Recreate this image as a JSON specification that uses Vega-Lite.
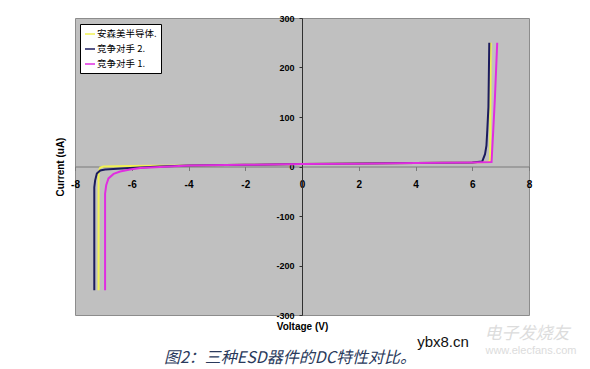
{
  "$schema": "https://vega.github.io/schema/vega-lite/v6.json",
  "width": 454,
  "height": 297,
  "autosize": {"type": "none"},
  "padding": {"left": 75, "top": 18, "right": 61, "bottom": 54},
  "background": "white",
  "view": {"fill": "#c0c0c0", "stroke": "#8c8c8c", "strokeWidth": 1},
  "title": {
    "text": "图2：三种ESD器件的DC特性对比。",
    "orient": "bottom",
    "anchor": "middle",
    "offset": -6,
    "dx": -12,
    "font": "Noto Sans CJK SC",
    "fontSize": 16,
    "fontStyle": "italic",
    "fontWeight": "normal",
    "color": "#2a3a5c"
  },
  "datasets": {
    "iv": [
      {"s": "安森美半导体.", "o": 1, "v": -7.17, "i": -250},
      {"s": "安森美半导体.", "o": 2, "v": -7.17, "i": -18},
      {"s": "安森美半导体.", "o": 3, "v": -7.15, "i": -8},
      {"s": "安森美半导体.", "o": 4, "v": -7.11, "i": -2},
      {"s": "安森美半导体.", "o": 5, "v": -7.0, "i": 0},
      {"s": "安森美半导体.", "o": 6, "v": -6.0, "i": 1},
      {"s": "安森美半导体.", "o": 7, "v": -4.0, "i": 2},
      {"s": "安森美半导体.", "o": 8, "v": -2.0, "i": 3.5},
      {"s": "安森美半导体.", "o": 9, "v": 0.0, "i": 5},
      {"s": "安森美半导体.", "o": 10, "v": 2.0, "i": 6},
      {"s": "安森美半导体.", "o": 11, "v": 4.0, "i": 7},
      {"s": "安森美半导体.", "o": 12, "v": 6.0, "i": 8},
      {"s": "安森美半导体.", "o": 13, "v": 6.55, "i": 9},
      {"s": "安森美半导体.", "o": 14, "v": 6.63, "i": 12},
      {"s": "安森美半导体.", "o": 15, "v": 6.64, "i": 120},
      {"s": "安森美半导体.", "o": 16, "v": 6.65, "i": 250},
      {"s": "竞争对手 2.", "o": 1, "v": -7.32, "i": -250},
      {"s": "竞争对手 2.", "o": 2, "v": -7.32, "i": -42},
      {"s": "竞争对手 2.", "o": 3, "v": -7.29, "i": -28},
      {"s": "竞争对手 2.", "o": 4, "v": -7.23, "i": -14},
      {"s": "竞争对手 2.", "o": 5, "v": -7.11, "i": -8},
      {"s": "竞争对手 2.", "o": 6, "v": -6.94, "i": -6},
      {"s": "竞争对手 2.", "o": 7, "v": -6.65, "i": -5},
      {"s": "竞争对手 2.", "o": 8, "v": -6.06, "i": -3},
      {"s": "竞争对手 2.", "o": 9, "v": -5.0, "i": 0},
      {"s": "竞争对手 2.", "o": 10, "v": -4.0, "i": 2},
      {"s": "竞争对手 2.", "o": 11, "v": -2.0, "i": 3.5},
      {"s": "竞争对手 2.", "o": 12, "v": 0.0, "i": 5},
      {"s": "竞争对手 2.", "o": 13, "v": 2.0, "i": 6},
      {"s": "竞争对手 2.", "o": 14, "v": 4.0, "i": 7},
      {"s": "竞争对手 2.", "o": 15, "v": 6.0, "i": 8},
      {"s": "竞争对手 2.", "o": 16, "v": 6.35, "i": 10},
      {"s": "竞争对手 2.", "o": 17, "v": 6.45, "i": 25},
      {"s": "竞争对手 2.", "o": 18, "v": 6.5, "i": 42},
      {"s": "竞争对手 2.", "o": 19, "v": 6.53, "i": 73},
      {"s": "竞争对手 2.", "o": 20, "v": 6.57, "i": 120},
      {"s": "竞争对手 2.", "o": 21, "v": 6.6, "i": 250},
      {"s": "竞争对手 1.", "o": 1, "v": -6.94, "i": -250},
      {"s": "竞争对手 1.", "o": 2, "v": -6.94, "i": -55},
      {"s": "竞争对手 1.", "o": 3, "v": -6.9, "i": -38},
      {"s": "竞争对手 1.", "o": 4, "v": -6.82, "i": -24},
      {"s": "竞争对手 1.", "o": 5, "v": -6.64, "i": -15},
      {"s": "竞争对手 1.", "o": 6, "v": -6.41, "i": -10},
      {"s": "竞争对手 1.", "o": 7, "v": -6.06, "i": -6},
      {"s": "竞争对手 1.", "o": 8, "v": -5.7, "i": -3},
      {"s": "竞争对手 1.", "o": 9, "v": -5.0, "i": -1},
      {"s": "竞争对手 1.", "o": 10, "v": -4.0, "i": 2},
      {"s": "竞争对手 1.", "o": 11, "v": -2.0, "i": 3.5},
      {"s": "竞争对手 1.", "o": 12, "v": 0.0, "i": 5},
      {"s": "竞争对手 1.", "o": 13, "v": 2.0, "i": 5.5},
      {"s": "竞争对手 1.", "o": 14, "v": 4.0, "i": 7},
      {"s": "竞争对手 1.", "o": 15, "v": 6.0, "i": 8},
      {"s": "竞争对手 1.", "o": 16, "v": 6.68, "i": 9},
      {"s": "竞争对手 1.", "o": 17, "v": 6.74, "i": 73},
      {"s": "竞争对手 1.", "o": 18, "v": 6.8, "i": 140},
      {"s": "竞争对手 1.", "o": 19, "v": 6.88, "i": 250}
    ],
    "wm": [
      {"t": "ybx8.cn", "v": 4.97, "i": -354, "k": "a"},
      {"t": "电子发烧友", "v": 7.93, "i": -338, "k": "b"},
      {"t": "www.elecfans.com", "v": 8.07, "i": -372, "k": "c"}
    ]
  },
  "layer": [
    {
      "data": {"name": "iv"},
      "mark": {"type": "line", "strokeWidth": 2, "clip": true},
      "encoding": {
        "x": {
          "field": "v", "type": "quantitative",
          "scale": {"domain": [-8, 8], "nice": false, "zero": false},
          "axis": {
            "orient": "bottom",
            "offset": -148.5,
            "values": [-8, -6, -4, -2, 0, 2, 4, 6, 8],
            "labelExpr": "'' + datum.value",
            "grid": false,
            "domainColor": "#7a7a7a",
            "tickColor": "#7a7a7a",
            "tickSize": 4,
            "labelPadding": 9,
            "labelFont": "Liberation Sans",
            "labelFontSize": 10,
            "labelFontWeight": "bold",
            "labelColor": "#000000",
            "labelFlush": false,
            "labelOverlap": false,
            "title": "Voltage (V)",
            "titleFont": "Liberation Sans",
            "titleFontSize": 10,
            "titleFontWeight": "bold",
            "titleColor": "#000000",
            "titleX": 227,
            "titleY": 155,
            "titleBaseline": "top"
          }
        },
        "y": {
          "field": "i", "type": "quantitative",
          "scale": {"domain": [-300, 300], "nice": false, "zero": false},
          "axis": {
            "orient": "left",
            "offset": -227,
            "values": [-300, -200, -100, 0, 100, 200, 300],
            "labelExpr": "'' + datum.value",
            "grid": false,
            "domainColor": "#303030",
            "tickColor": "#303030",
            "tickSize": 3,
            "labelPadding": 5,
            "labelFont": "Liberation Sans",
            "labelFontSize": 9,
            "labelFontWeight": "bold",
            "labelColor": "#000000",
            "labelFlush": false,
            "labelOverlap": false,
            "title": "Current (uA)",
            "titleFont": "Liberation Sans",
            "titleFontSize": 10,
            "titleFontWeight": "bold",
            "titleColor": "#000000",
            "titleAngle": -90,
            "titleX": -242,
            "titleY": 148.5,
            "titleAlign": "center",
            "titleBaseline": "middle"
          }
        },
        "order": {"field": "o", "type": "quantitative"},
        "color": {
          "field": "s", "type": "nominal",
          "scale": {
            "domain": ["安森美半导体.", "竞争对手 2.", "竞争对手 1."],
            "range": ["#f2f252", "#1c1c5e", "#e02ee0"]
          },
          "legend": {
            "orient": "none",
            "legendX": 5,
            "legendY": 6,
            "title": null,
            "fillColor": "#ffffff",
            "strokeColor": "#000000",
            "padding": 4,
            "rowPadding": 4,
            "symbolType": "stroke",
            "symbolSize": 100,
            "symbolStrokeWidth": 1.5,
            "labelOffset": 1,
            "labelFont": "Noto Sans CJK SC",
            "labelFontSize": 9.5,
            "labelColor": "#000000"
          }
        }
      }
    },
    {
      "data": {"name": "wm"},
      "mark": {"type": "text", "font": "Liberation Sans"},
      "transform": [{"filter": "datum.k == 'a'"}],
      "encoding": {
        "x": {"field": "v", "type": "quantitative"},
        "y": {"field": "i", "type": "quantitative"},
        "text": {"field": "t"},
        "size": {"value": 15},
        "color": {"value": "#111111"}
      }
    },
    {
      "data": {"name": "wm"},
      "mark": {"type": "text", "font": "Noto Sans CJK SC", "fontStyle": "italic"},
      "transform": [{"filter": "datum.k == 'b'"}],
      "encoding": {
        "x": {"field": "v", "type": "quantitative"},
        "y": {"field": "i", "type": "quantitative"},
        "text": {"field": "t"},
        "size": {"value": 17},
        "color": {"value": "#dcdcdc"}
      }
    },
    {
      "data": {"name": "wm"},
      "mark": {"type": "text", "font": "Liberation Sans"},
      "transform": [{"filter": "datum.k == 'c'"}],
      "encoding": {
        "x": {"field": "v", "type": "quantitative"},
        "y": {"field": "i", "type": "quantitative"},
        "text": {"field": "t"},
        "size": {"value": 11},
        "color": {"value": "#dcdcdc"}
      }
    }
  ]
}
